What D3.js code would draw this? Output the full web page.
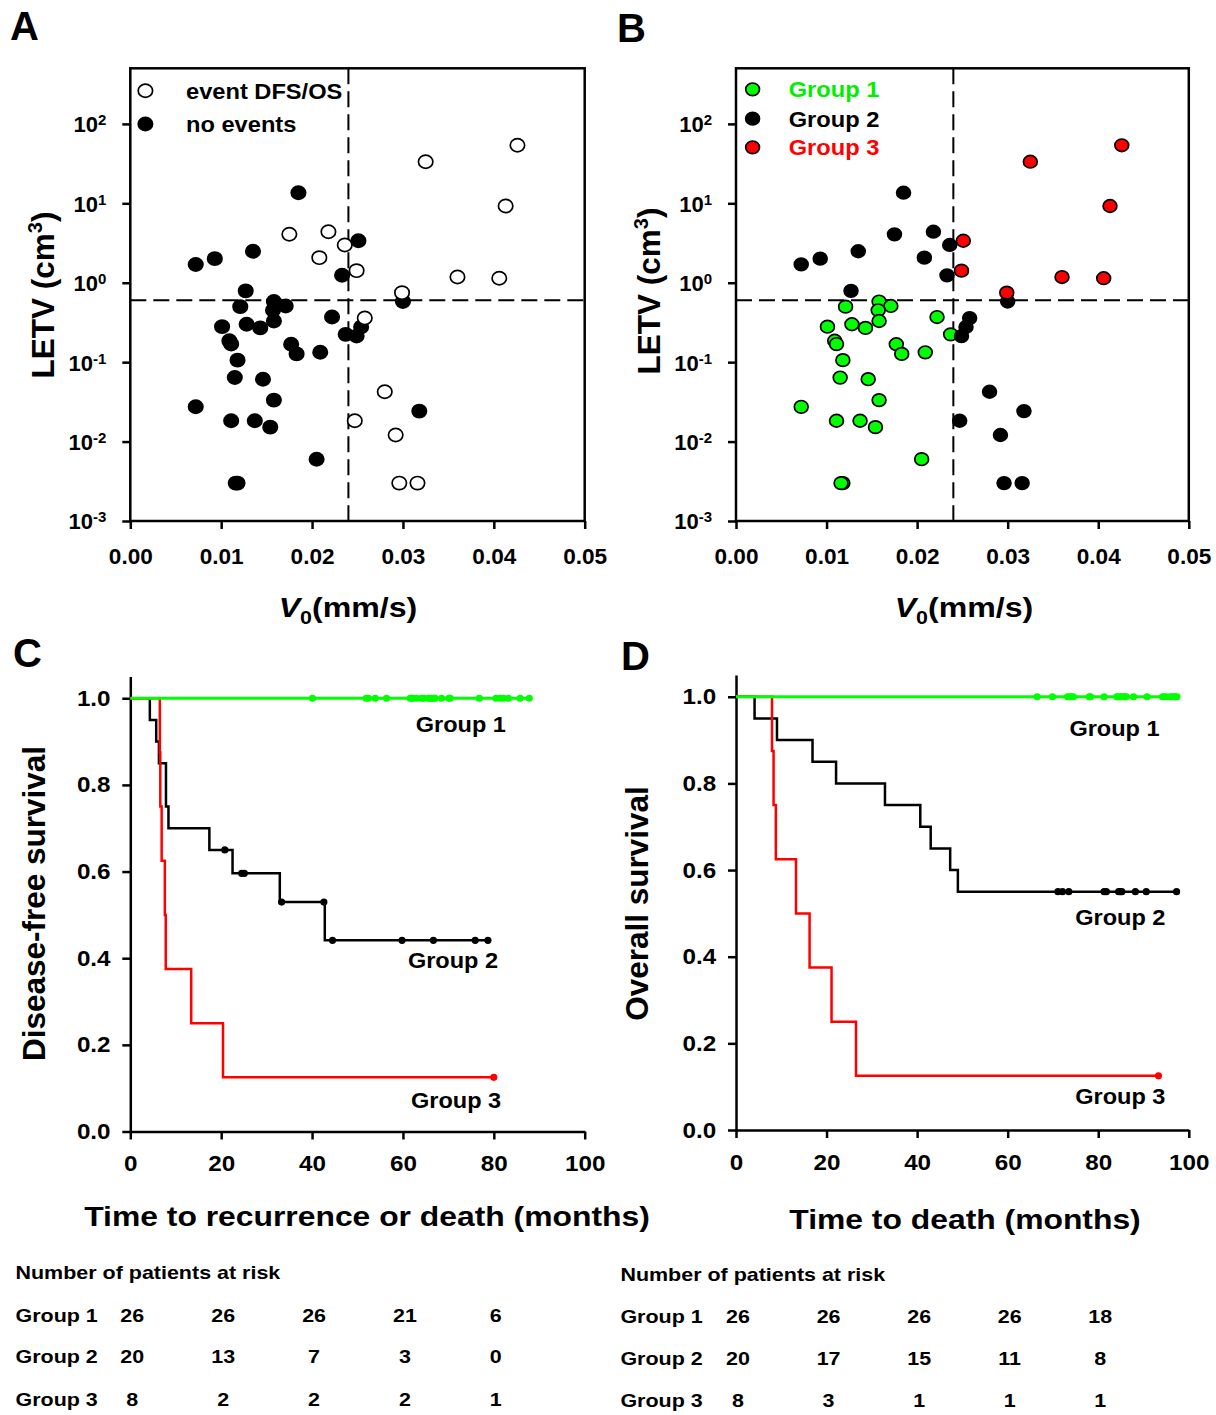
<!DOCTYPE html>
<html>
<head>
<meta charset="utf-8">
<script src="https://cdn.jsdelivr.net/npm/d3@7"></script>
<style>
  body { margin: 0; background: #fff; }
  svg text { font-family: "Liberation Sans", Arial, sans-serif; font-weight: bold; }
</style>
</head>
<body>
<svg id="fig" width="1216" height="1415"></svg>
<script>
// ---- panels A / B : one entry per patient ----
const v0 = [
  0.0121, 0.0158, 0.0171, 0.0157, 0.0158, 0.0128, 0.0101, 0.0143, 0.0222, 0.0237, 0.0109, 0.0111, 0.0177,
  0.0183, 0.0209, 0.0118, 0.0115, 0.0146, 0.0072, 0.0158, 0.0111, 0.0137, 0.0154, 0.0205, 0.0118, 0.0116,
  0.0185, 0.0072, 0.0093, 0.0135, 0.0175, 0.0218, 0.0208, 0.0236, 0.0233, 0.0127, 0.0300, 0.0254, 0.0249,
  0.0258, 0.0280, 0.0247, 0.0318, 0.0292, 0.0296, 0.0316,
  0.0251, 0.0249, 0.0299, 0.0325, 0.0360, 0.0406, 0.0413, 0.0426
];
const letv = [
  0.50, 0.58, 0.51, 0.45, 0.33, 0.30, 0.28, 0.27, 0.37, 0.224, 0.186, 0.169, 0.168,
  0.127, 0.133, 0.106, 0.064, 0.061, 0.0274, 0.0333, 0.0183, 0.0183, 0.0152, 0.0060, 0.0030, 0.0030,
  13.6, 1.70, 2.01, 2.49, 4.07, 4.39, 2.07, 2.99, 1.24, 0.79, 0.58, 0.277, 0.213,
  0.359, 0.0424, 0.0183, 0.0242, 0.0121, 0.0030, 0.0030,
  3.38, 1.42, 0.75, 33.4, 1.18, 1.14, 9.25, 53.8
];
const group = [
  1, 1, 1, 1, 1, 1, 1, 1, 1, 1, 1, 1, 1, 1, 1, 1, 1, 1, 1, 1, 1, 1, 1, 1, 1, 1,
  2, 2, 2, 2, 2, 2, 2, 2, 2, 2, 2, 2, 2, 2, 2, 2, 2, 2, 2, 2,
  3, 3, 3, 3, 3, 3, 3, 3
];
const hadEvent = [
  0, 0, 0, 0, 0, 0, 0, 0, 0, 0, 0, 0, 0, 0, 0, 0, 0, 0, 0, 0, 0, 0, 0, 0, 0, 0,
  0, 0, 0, 0, 1, 1, 1, 1, 0, 0, 0, 0, 0, 1, 1, 1, 0, 1, 1, 1,
  0, 1, 1, 1, 1, 1, 1, 1
];
const v0Cut = 0.024, letvCut = 0.6;
const v0Ticks = [0, 0.01, 0.02, 0.03, 0.04, 0.05];
const letvTicks = [1e-3, 1e-2, 1e-1, 1e0, 1e1, 1e2];

// ---- panels C / D : Kaplan-Meier times (months) ----
const dfsEvents1 = [];
const dfsCensor1 = [40.1, 51.9, 52.4, 53.9, 56.4, 61.6, 61.9, 62.3, 63.0, 64.1, 64.6, 65.6, 66.0, 66.3, 66.7,
  67.1, 68.5, 70.1, 70.4, 76.8, 80.5, 81.4, 82.1, 83.2, 85.8, 87.8];
const dfsEvents2 = [4.3, 5.7, 6.3, 7.85, 7.85, 8.4, 17.4, 22.5, 32.9, 42.8];
const dfsCensor2 = [20.8, 24.5, 25.1, 33.3, 42.6, 44.5, 59.8, 66.7, 75.9, 78.7];
const dfsEvents3 = [6.5, 6.6, 6.9, 7.6, 7.8, 13.4, 20.4];
const dfsCensor3 = [80.0];

const osEvents1 = [];
const osCensor1 = [66.5, 69.9, 73.2, 73.6, 74.0, 74.5, 78.0, 78.3, 81.3, 84.1, 84.4, 84.9, 85.2, 85.6, 85.9,
  86.2, 87.8, 90.8, 94.2, 94.6, 95.1, 95.9, 96.3, 96.8, 97.0, 97.4];
const osEvents2 = [4.1, 9.05, 16.9, 22.1, 32.9, 40.7, 43.0, 47.3, 49.0];
const osCensor2 = [71.1, 72.1, 73.5, 81.3, 81.8, 84.5, 84.9, 85.2, 88.2, 90.6, 97.3];
const osEvents3 = [7.95, 8.3, 8.8, 13.25, 16.25, 21.1, 26.5];
const osCensor3 = [93.3];

const timeTicks = [0, 20, 40, 60, 80, 100];
const survTicks = [0, 0.2, 0.4, 0.6, 0.8, 1.0];
const riskTimes = [0, 20, 40, 60, 80];
const dfsRisk = [[26, 26, 26, 21, 6], [20, 13, 7, 3, 0], [8, 2, 2, 2, 1]];
const osRisk = [[26, 26, 26, 26, 18], [20, 17, 15, 11, 8], [8, 3, 1, 1, 1]];
const groupNames = ["Group 1", "Group 2", "Group 3"];
const groupColors = ["#00ff00", "#000000", "#ff0000"];

const svg = d3.select("#fig");
svg.append("rect").attr("width", 1216).attr("height", 1415).attr("fill", "#fff");

function label(x, y, str, size, sx, anchor, fill) {
  return svg.append("text")
    .attr("transform", `translate(${x},${y}) scale(${sx},1)`)
    .attr("text-anchor", anchor || "start")
    .attr("font-size", size)
    .attr("fill", fill || "#000")
    .text(str);
}

function styleAxis(g, size, sx) {
  g.attr("font-size", null).attr("font-family", null);
  g.selectAll(".tick line").attr("stroke-width", 2.5);
  g.selectAll(".domain").attr("stroke-width", 2.5);
  g.selectAll(".tick text").attr("font-size", size).attr("transform", `scale(${sx},1)`);
}

// ---------- scatter panels ----------
function scatterPanel(x0, x1, mode) {
  const top = 68.3, bottom = 521;
  const x = d3.scaleLinear().domain([0, 0.05]).range([x0, x1]);
  const y = d3.scaleLog().domain([1e-3, Math.pow(10, 2.7)]).range([bottom, top]);

  const gx = svg.append("g").attr("transform", `translate(0,${bottom})`)
    .call(d3.axisBottom(x).tickValues(v0Ticks).tickFormat(d3.format(".2f")).tickSize(8).tickPadding(20));
  gx.select(".domain").remove();
  styleAxis(gx, 21.5, 1.05);

  const gy = svg.append("g").attr("transform", `translate(${x0},0)`)
    .call(d3.axisLeft(y).tickValues(letvTicks).tickFormat("").tickSize(8).tickPadding(16));
  gy.select(".domain").remove();
  styleAxis(gy, 22, 1.0);
  gy.selectAll(".tick text").each(function (d) {
    const t = d3.select(this).attr("dy", "0.36em");
    t.append("tspan").text("10");
    t.append("tspan").attr("font-size", 15).attr("dy", -7).text(Math.round(Math.log10(d)));
  });

  svg.append("rect").attr("x", x0).attr("y", top).attr("width", x1 - x0).attr("height", bottom - top)
    .attr("fill", "none").attr("stroke", "#000").attr("stroke-width", 2.5);

  svg.append("line").attr("x1", x(v0Cut)).attr("x2", x(v0Cut)).attr("y1", top).attr("y2", bottom)
    .attr("stroke", "#000").attr("stroke-width", 2).attr("stroke-dasharray", "16,7");
  svg.append("line").attr("x1", x0).attr("x2", x1).attr("y1", y(letvCut)).attr("y2", y(letvCut))
    .attr("stroke", "#000").attr("stroke-width", 2).attr("stroke-dasharray", "16,7");

  const idx = d3.range(v0.length);
  svg.append("g").selectAll("ellipse").data(idx).join("ellipse")
    .attr("cx", i => x(v0[i])).attr("cy", i => y(letv[i]))
    .attr("rx", mode === "event" ? 7.2 : 6.9).attr("ry", mode === "event" ? 6.6 : 6.3)
    .attr("fill", i => mode === "event" ? (hadEvent[i] ? "#fff" : "#000") : groupColors[group[i] - 1])
    .attr("stroke", "#000").attr("stroke-width", 1.7);
  return { x, y };
}

const A = scatterPanel(130.3, 584.7, "event");
const B = scatterPanel(736, 1188.8, "group");

// legends
[["event DFS/OS", "#fff", 90.7, 99.3], ["no events", "#000", 124, 131.7]].forEach(([txt, fill, cy, by]) => {
  svg.append("ellipse").attr("cx", 145.4).attr("cy", cy).attr("rx", 7.2).attr("ry", 6.6)
    .attr("fill", fill).attr("stroke", "#000").attr("stroke-width", 1.7);
  label(186, by, txt, 21.5, 1.1);
});
groupNames.forEach((name, i) => {
  const cy = [89.3, 118.7, 147.3][i];
  svg.append("ellipse").attr("cx", 752.6).attr("cy", cy).attr("rx", 6.9).attr("ry", 6.3)
    .attr("fill", groupColors[i]).attr("stroke", "#000").attr("stroke-width", 1.7);
  label(788.7, cy + 8, name, 21.5, 1.1, "start", i === 0 ? "#00ee00" : groupColors[i]);
});

// axis titles of scatter panels
function v0Title(cx) {
  const t = svg.append("text").attr("transform", `translate(${cx},616.7) scale(1.19,1)`)
    .attr("text-anchor", "middle").attr("font-size", 27);
  t.append("tspan").attr("font-style", "italic").text("V");
  t.append("tspan").attr("font-size", 18).attr("dy", 7).text("0");
  t.append("tspan").attr("dy", -7).text("(mm/s)");
}
v0Title(348);
v0Title(964);
function letvTitle(bx, cy) {
  const t = svg.append("text").attr("transform", `translate(${bx},${cy}) rotate(-90)`)
    .attr("text-anchor", "middle").attr("font-size", 31.5);
  t.append("tspan").text("LETV (cm");
  t.append("tspan").attr("font-size", 20).attr("dy", -12).text("3");
  t.append("tspan").attr("dy", 12).text(")");
}
letvTitle(54, 295);
letvTitle(660, 291);

// ---------- Kaplan-Meier panels ----------
function kmCurve(events, censors) {
  const all = events.map(t => ({ t, e: 1 })).concat(censors.map(t => ({ t, e: 0 })));
  all.sort((a, b) => a.t - b.t || b.e - a.e);
  let n = all.length, s = 1;
  const steps = [[0, 1]], marks = [];
  all.forEach(p => {
    if (p.e) { s = s * (n - 1) / n; steps.push([p.t, s]); }
    else marks.push([p.t, s]);
    n--;
  });
  steps.push([d3.max(all, p => p.t), s]);
  return { steps, marks };
}

function kmPanel(x0, x1, y0, curves) {
  const x = d3.scaleLinear().domain([0, 100]).range([x0, x1]);
  const y = d3.scaleLinear().domain([0, 1.05]).range([y0, y0 - 454.9]);

  const gx = svg.append("g").attr("transform", `translate(0,${y0})`)
    .call(d3.axisBottom(x).tickValues(timeTicks).tickFormat(d3.format("d")).tickSize(8).tickSizeOuter(0).tickPadding(16));
  styleAxis(gx, 22, 1.1);
  const gy = svg.append("g").attr("transform", `translate(${x0},0)`)
    .call(d3.axisLeft(y).tickValues(survTicks).tickFormat(d3.format(".1f")).tickSize(8).tickSizeOuter(0).tickPadding(10));
  styleAxis(gy, 22, 1.1);

  const line = d3.line().x(d => x(d[0])).y(d => y(d[1])).curve(d3.curveStepAfter);
  // draw group 2, group 3, then group 1 on top
  [1, 2, 0].forEach(gi => {
    const c = kmCurve(curves[gi][0], curves[gi][1]);
    svg.append("path").attr("d", line(c.steps)).attr("fill", "none")
      .attr("stroke", groupColors[gi]).attr("stroke-width", gi === 0 ? 3 : 2.5);
    svg.append("g").selectAll("circle").data(c.marks).join("circle")
      .attr("cx", d => x(d[0])).attr("cy", d => y(d[1])).attr("r", 3.6).attr("fill", groupColors[gi]);
  });
  return { x, y };
}

const C = kmPanel(130.3, 584.7, 1131.5,
  [[dfsEvents1, dfsCensor1], [dfsEvents2, dfsCensor2], [dfsEvents3, dfsCensor3]]);
const D = kmPanel(736, 1188.8, 1130,
  [[osEvents1, osCensor1], [osEvents2, osCensor2], [osEvents3, osCensor3]]);

// curve labels
[[415.7, 731.7], [407.9, 968.3], [411, 1108.3]].forEach((p, i) => label(p[0], p[1], groupNames[i], 22, 1.07));
[[1069.4, 736], [1075.2, 925], [1075.2, 1104]].forEach((p, i) => label(p[0], p[1], groupNames[i], 22, 1.07));

// KM axis titles
label(367, 1226, "Time to recurrence or death (months)", 27, 1.18, "middle");
label(965, 1229, "Time to death (months)", 27, 1.18, "middle");
svg.append("text").attr("transform", "translate(45,903.5) rotate(-90)").attr("text-anchor", "middle")
  .attr("font-size", 31.5).text("Disease-free survival");
svg.append("text").attr("transform", "translate(648,903.5) rotate(-90)").attr("text-anchor", "middle")
  .attr("font-size", 31.5).text("Overall survival");

// panel letters
label(10, 40, "A", 40, 1.0);
label(617, 41.7, "B", 40, 1.0);
label(13, 667.3, "C", 40, 1.0);
label(621, 670, "D", 40, 1.0);

// ---------- numbers at risk ----------
function riskTable(left, x, headY, rowYs, risk) {
  label(left, headY, "Number of patients at risk", 19, 1.13);
  risk.forEach((row, gi) => {
    label(left, rowYs[gi], groupNames[gi], 19, 1.13);
    row.forEach((v, k) => label(x(riskTimes[k]) + 2, rowYs[gi], v, 19, 1.13, "middle"));
  });
}
riskTable(15.5, C.x, 1279, [1321.7, 1363.3, 1406], dfsRisk);
riskTable(620.4, D.x, 1281, [1323.3, 1364.7, 1406.7], osRisk);
</script>
</body>
</html>
